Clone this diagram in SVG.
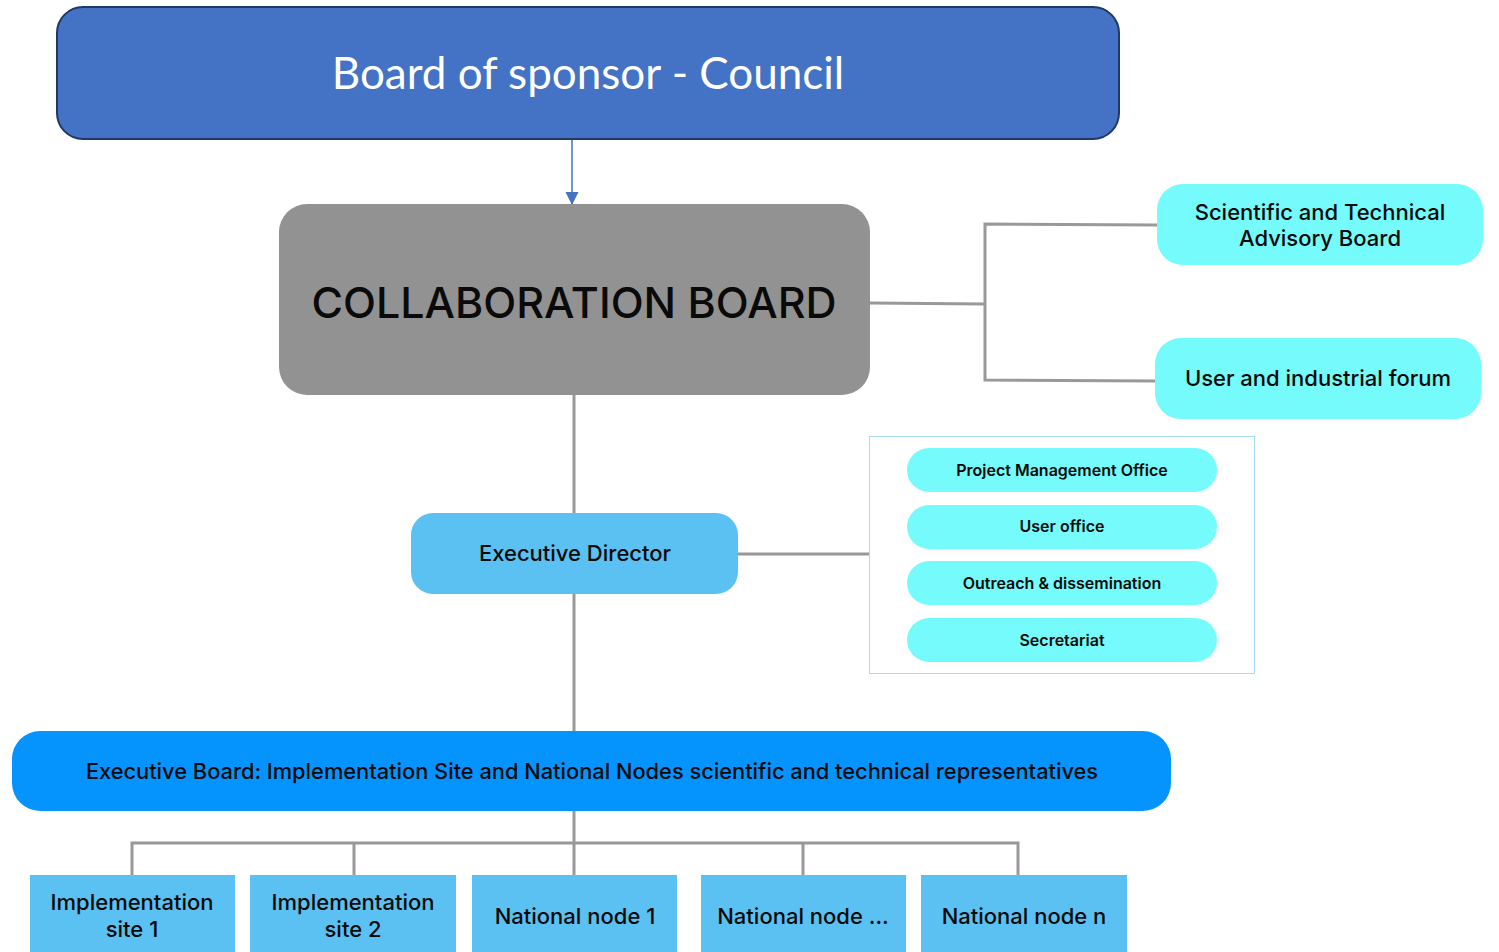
<svg xmlns="http://www.w3.org/2000/svg" width="1499" height="952" viewBox="0 0 1499 952">
<style>
text{font-family:Inter,"Noto Sans","Liberation Sans",sans-serif;text-anchor:middle;fill:#0a0a0a}
.line{stroke:#999999;stroke-width:3;fill:none}
.cyan{fill:#75FBFB}
.lb{fill:#5BC1F2}
.pill text{font-size:16px;font-weight:600}
.bot text{font-size:22px;font-weight:500}
</style>
<defs>
<marker id="arr" viewBox="0 0 10 10" refX="10" refY="5" markerWidth="13" markerHeight="14" markerUnits="userSpaceOnUse" orient="auto">
<path d="M0,0 L10,5 L0,10 z" fill="#4472C4"/>
</marker>
</defs>
<g id="connectors">
<line x1="572" y1="140" x2="572" y2="205" stroke="#4472C4" stroke-width="1.5" marker-end="url(#arr)"/>
<polyline class="line" points="870,303 985,304"/>
<polyline class="line" points="1157,225 985,224 985,380 1155,381"/>
<line class="line" x1="574" y1="395" x2="574" y2="513"/>
<line class="line" x1="574" y1="594" x2="574" y2="731"/>
<line class="line" x1="738" y1="554" x2="869" y2="554"/>
<line class="line" x1="574" y1="811" x2="574" y2="875"/>
<polyline class="line" points="132,875 132,843 1018,843 1018,875"/>
<line class="line" x1="354" y1="843" x2="354" y2="875"/>
<line class="line" x1="803" y1="843" x2="803" y2="875"/>
</g>
<g id="council">
<rect x="57" y="7" width="1062" height="132" rx="26" fill="#4472C4" stroke="#1F3864" stroke-width="2"/>
<text x="588" y="89" style="font-family:Lato,'Open Sans',sans-serif;font-size:44px;fill:#ffffff">Board of sponsor - Council</text>
</g>
<g id="collab">
<rect x="279" y="204" width="591" height="191" rx="28" fill="#929292"/>
<text x="574" y="318" style="font-size:43px;font-weight:500">COLLABORATION BOARD</text>
</g>
<g id="stab">
<rect class="cyan" x="1157" y="184" width="326" height="81" rx="26"/>
<text x="1320" y="220" style="font-size:22px;font-weight:500">Scientific and Technical</text>
<text x="1320" y="246" style="font-size:22px;font-weight:500">Advisory Board</text>
</g>
<g id="forum">
<rect class="cyan" x="1155" y="338" width="326" height="81" rx="26"/>
<text x="1318" y="386" style="font-size:22px;font-weight:500">User and industrial forum</text>
</g>
<g id="director">
<rect class="lb" x="411" y="513" width="327" height="81" rx="22"/>
<text x="575" y="561" style="font-size:22px;font-weight:500">Executive Director</text>
</g>
<g id="offices">
<rect x="869.5" y="436.5" width="385" height="237" fill="#ffffff" stroke="#A8DDF5" stroke-width="1"/>
<g class="pill" id="pmo"><rect class="cyan" x="907" y="448" width="310" height="44" rx="22"/><text x="1062" y="476">Project Management Office</text></g>
<g class="pill" id="useroffice"><rect class="cyan" x="907" y="505" width="310" height="44" rx="22"/><text x="1062" y="532">User office</text></g>
<g class="pill" id="outreach"><rect class="cyan" x="907" y="561" width="310" height="44" rx="22"/><text x="1062" y="589">Outreach &amp; dissemination</text></g>
<g class="pill" id="secretariat"><rect class="cyan" x="907" y="618" width="310" height="44" rx="22"/><text x="1062" y="646">Secretariat</text></g>
</g>
<g id="execboard">
<rect x="12" y="731" width="1159" height="80" rx="28" fill="#0593FD"/>
<text x="592" y="779" style="font-size:21.8px;font-weight:500">Executive Board: Implementation Site and National Nodes scientific and technical representatives</text>
</g>
<g class="bot" id="site1"><rect class="lb" x="30" y="875" width="205" height="80"/><text x="132" y="910">Implementation</text><text x="132" y="937">site 1</text></g>
<g class="bot" id="site2"><rect class="lb" x="250" y="875" width="206" height="80"/><text x="353" y="910">Implementation</text><text x="353" y="937">site 2</text></g>
<g class="bot" id="node1"><rect class="lb" x="472" y="875" width="205" height="80"/><text x="575" y="924">National node 1</text></g>
<g class="bot" id="nodedots"><rect class="lb" x="701" y="875" width="205" height="80"/><text x="803" y="924">National node ...</text></g>
<g class="bot" id="noden"><rect class="lb" x="921" y="875" width="206" height="80"/><text x="1024" y="924">National node n</text></g>
</svg>
